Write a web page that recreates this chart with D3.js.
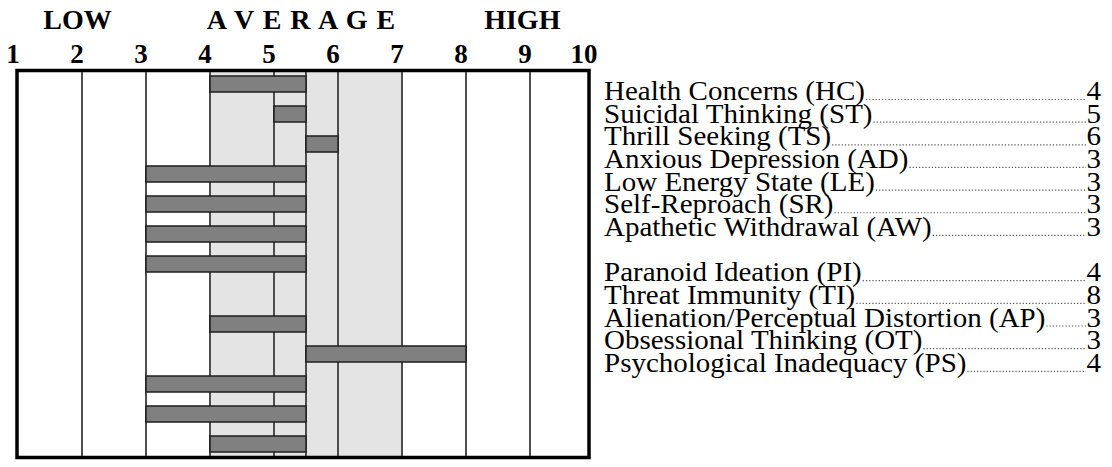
<!DOCTYPE html>
<html>
<head>
<meta charset="utf-8">
<script src="https://cdn.jsdelivr.net/npm/d3@7"></script>
<style>
  html, body { margin: 0; padding: 0; background: #fff; }
  svg { display: block; }
</style>
</head>
<body>
<svg id="chart" width="1112" height="467"></svg>
<script>
// ---------------- data ----------------
const scaleNames = [
  "Health Concerns (HC)",
  "Suicidal Thinking (ST)",
  "Thrill Seeking (TS)",
  "Anxious Depression (AD)",
  "Low Energy State (LE)",
  "Self-Reproach (SR)",
  "Apathetic Withdrawal (AW)",
  "Paranoid Ideation (PI)",
  "Threat Immunity (TI)",
  "Alienation/Perceptual Distortion (AP)",
  "Obsessional Thinking (OT)",
  "Psychological Inadequacy (PS)"
];
const scores = [4, 5, 6, 3, 3, 3, 3, 4, 8, 3, 3, 4];
const sectionStarts = [0, 7];
const tickValues = [1, 2, 3, 4, 5, 6, 7, 8, 9, 10];
const gridValues = [2, 3, 4, 5, 5.5, 6, 7, 8, 9];
const averageBand = [4, 7];
const midpoint = 5.5;
const bandLabels = ["LOW", "A V E R A G E", "HIGH"];
const bandLabelAt = [2, 5.5, 8.95];

// ---------------- layout ----------------
const FONT = "'Liberation Serif', 'Times New Roman', Times, serif";
const svg = d3.select("#chart");
function measure(str, size, weight) {
  const t = svg.append("text").attr("font-family", FONT).attr("font-size", size)
    .attr("font-weight", weight || "normal").text(str);
  const w = t.node().getComputedTextLength();
  t.remove();
  return w;
}

const x = d3.scaleLinear().domain([1, 9, 10]).range([18, 530, 589]);

const rowIds = [];
scaleNames.forEach((n, i) => {
  if (i > 0 && sectionStarts.includes(i)) rowIds.push("gap" + i);
  rowIds.push(n);
});
const y = d3.scaleBand().domain(rowIds).range([69, 459]);
const labelY = d3.scalePoint().domain(rowIds).range([100, 371.8]);

const frameTop = 70.5, frameBottom = 457.5;

svg.append("rect").attr("x", x(1)).attr("y", frameTop)
  .attr("width", x(10) - x(1)).attr("height", frameBottom - frameTop).attr("fill", "#fff");
svg.append("rect").attr("x", x(averageBand[0])).attr("y", frameTop)
  .attr("width", x(averageBand[1]) - x(averageBand[0])).attr("height", frameBottom - frameTop)
  .attr("fill", "#e4e4e4");

svg.append("g").selectAll("line").data(gridValues).join("line")
  .attr("x1", d => x(d)).attr("x2", d => x(d))
  .attr("y1", frameTop).attr("y2", frameBottom)
  .attr("stroke", "#3c3c3c").attr("stroke-width", 1.8);

const data = scaleNames.map((n, i) => ({ name: n, score: scores[i] }));
const barH = 16;
svg.append("g").selectAll("rect").data(data).join("rect")
  .attr("x", d => x(Math.min(d.score, midpoint)))
  .attr("width", d => Math.abs(x(d.score) - x(midpoint)))
  .attr("y", d => y(d.name) + y.bandwidth() / 2 - barH / 2)
  .attr("height", barH)
  .attr("fill", "#808080")
  .attr("stroke", "#1e1e1e").attr("stroke-width", 1.5);

svg.append("rect").attr("x", x(1) - 1).attr("y", frameTop)
  .attr("width", x(10) - x(1) + 1).attr("height", frameBottom - frameTop)
  .attr("fill", "none").attr("stroke", "#000").attr("stroke-width", 3.5);

svg.append("g").selectAll("text").data(tickValues).join("text")
  .attr("x", d => x(d) - 5).attr("y", 63)
  .attr("text-anchor", "middle")
  .attr("font-family", FONT)
  .attr("font-size", 27).attr("font-weight", "bold")
  .text(d => d);

svg.append("g").selectAll("text").data(bandLabels).join("text")
  .attr("x", (d, i) => x(bandLabelAt[i]) - 4.5).attr("y", 29)
  .attr("text-anchor", "middle")
  .attr("font-family", FONT)
  .attr("font-size", 28).attr("font-weight", "bold")
  .attr("letter-spacing", (d, i) => i === 1 ? 1 : 0)
  .text(d => d);

// right-hand labels, scaled so "Health Concerns (HC)" spans ~261px as in the reference
const labelX = 604, numX = 1101, labelSize = 27;
const stretch = 261 / measure(scaleNames[0], labelSize);
const lg = svg.append("g");
data.forEach(d => {
  const yy = labelY(d.name);
  const t = lg.append("text")
    .attr("transform", `translate(${labelX},${yy}) scale(${stretch},1)`)
    .attr("font-family", FONT).attr("font-size", labelSize)
    .text(d.name);
  const w = t.node().getComputedTextLength() * stretch;
  lg.append("line")
    .attr("x1", labelX + w + 1).attr("x2", numX - 15)
    .attr("y1", yy - 0.5).attr("y2", yy - 0.5)
    .attr("stroke", "#555").attr("stroke-width", 1.2)
    .attr("stroke-dasharray", "1.2,2");
  lg.append("text")
    .attr("transform", `translate(${numX},${yy}) scale(${stretch},1)`)
    .attr("text-anchor", "end")
    .attr("font-family", FONT).attr("font-size", labelSize)
    .text(d.score);
});
</script>
</body>
</html>
